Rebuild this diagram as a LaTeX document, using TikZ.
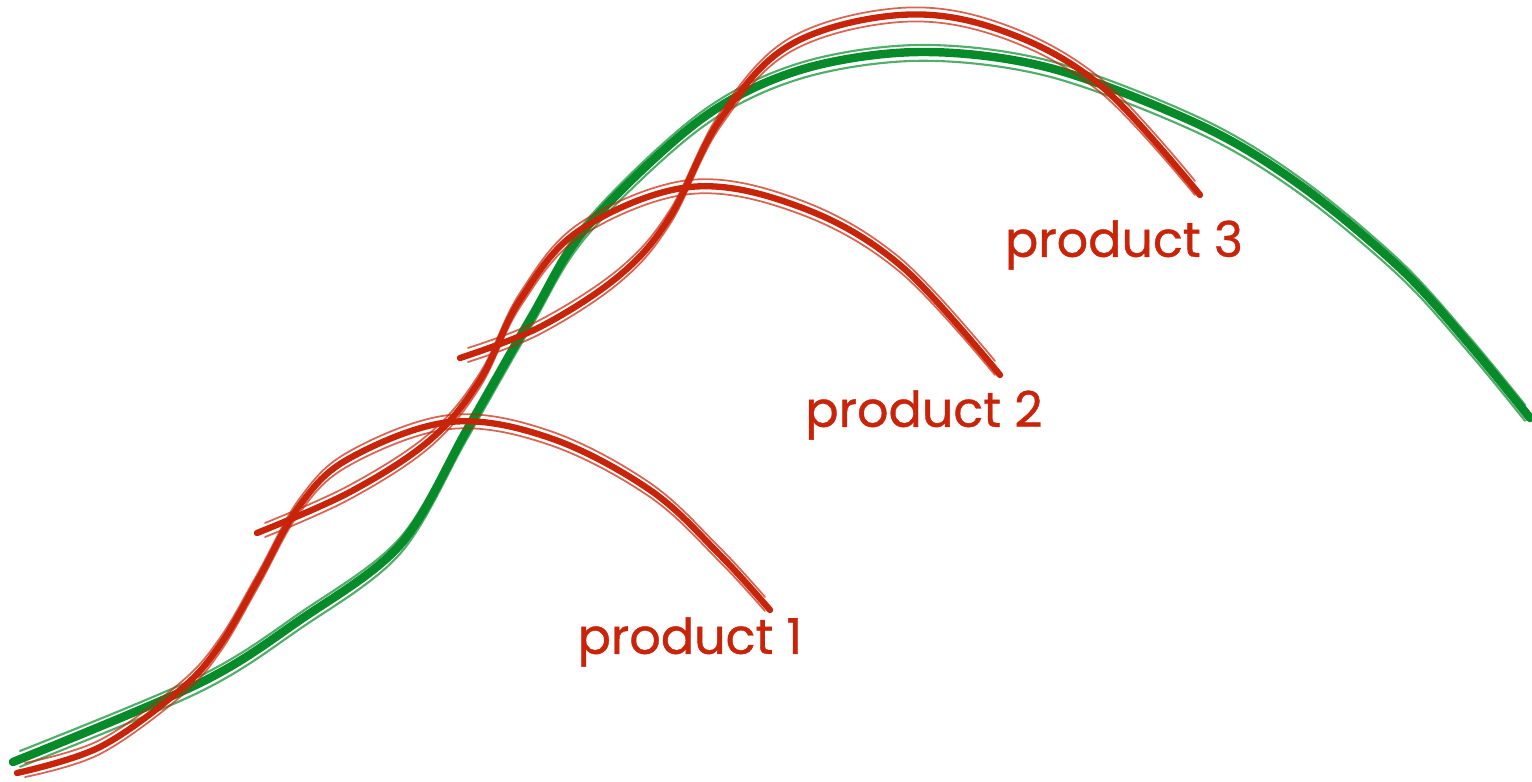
\documentclass[tikz,border=0pt]{standalone}
\usepackage{fontspec}
\setmainfont{Poppins}
\definecolor{curvered}{HTML}{C8240A}
\definecolor{curvegreen}{HTML}{078A2A}
\tikzset{
  brush/.style={line cap=round, line join=round},
  greenline/.style={brush, draw=curvegreen, line width=2.4pt},
  redline/.style={brush, draw=curvered, line width=1.8pt},
  sketchgreen/.style={brush, draw=curvegreen, line width=0.6pt, opacity=0.7},
  sketchred/.style={brush, draw=curvered, line width=0.5pt, opacity=0.7},
  productlabel/.style={text=curvered, font=\fontsize{14}{17}\selectfont\addfontfeatures{FakeBold=0.8}}
}
\begin{document}
\begin{tikzpicture}[x=0.01cm, y=-0.01cm]
    \useasboundingbox (0,0) rectangle (1532,782);

    % market curve
    \draw[greenline] plot[smooth, tension=0.55] coordinates {(13,762) (200,683) (300,620) (400,545) (467,430) (530,320) (587,227) (700,120) (800,70) (920,52) (1050,68) (1200,125) (1300,185) (1400,268) (1470,345) (1530,418)};
    \foreach \dy in {-2.5,2} {
        \draw[sketchgreen, yshift=\dy] plot[smooth, tension=0.55] coordinates {(20,758) (200,683) (300,620) (400,545) (467,430) (530,320) (587,227) (700,120) (800,70) (920,52) (1050,68) (1200,125) (1300,185) (1400,268) (1470,345) (1525,412)};
    }

    % product 1
    \draw[redline] plot[smooth, tension=0.6] coordinates {(17,773) (100,747) (180,690) (220,645) (258,580) (300,505) (350,458) (450,422) (550,438) (650,490) (720,555) (770,610)};
    \foreach \dy in {-2,2} {
        \draw[sketchred, yshift=\dy] plot[smooth, tension=0.6] coordinates {(25,770) (100,747) (180,690) (220,645) (258,580) (300,505) (350,458) (450,422) (550,438) (650,490) (720,555) (765,604)};
    }

    % product 2
    \draw[redline] plot[smooth, tension=0.6] coordinates {(257,533) (350,492) (430,440) (480,380) (520,300) (580,230) (690,187) (800,207) (900,265) (1000,375)};
    \foreach \dy in {-2,2} {
        \draw[sketchred, yshift=\dy] plot[smooth, tension=0.6] coordinates {(265,530) (350,492) (430,440) (480,380) (520,300) (580,230) (690,187) (800,207) (900,265) (995,368)};
    }

    % product 3
    \draw[redline] plot[smooth, tension=0.6] coordinates {(460,358) (540,327) (620,275) (670,217) (720,120) (790,45) (900,15) (1000,30) (1100,85) (1200,195)};
    \foreach \dy in {-2,2} {
        \draw[sketchred, yshift=\dy] plot[smooth, tension=0.6] coordinates {(468,355) (540,327) (620,275) (670,217) (720,120) (790,45) (900,15) (1000,30) (1100,85) (1195,188)};
    }

    \node[productlabel] (p1) at (690,642) {product 1};
    \node[productlabel] (p2) at (924,415) {product 2};
    \node[productlabel] (p3) at (1124,245) {product 3};
\end{tikzpicture}
\end{document}
